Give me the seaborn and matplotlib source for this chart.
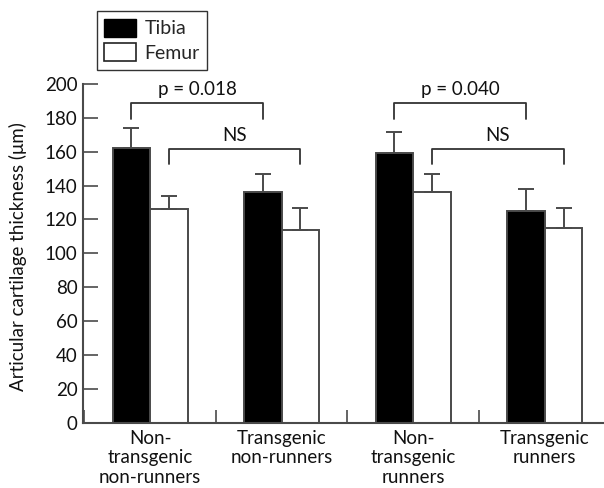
import matplotlib
matplotlib.use("Agg")
import matplotlib.pyplot as plt
from matplotlib.patches import Patch
import seaborn as sns
import pandas as pd
import numpy as np

# Mean articular cartilage thickness (µm) with SEM, per group and bone
groups = ["Non-\ntransgenic\nnon-runners", "Transgenic\nnon-runners",
          "Non-\ntransgenic\nrunners", "Transgenic\nrunners"]
bones = ["Tibia", "Femur"]
tibia_mean = [162, 136, 159, 125]
tibia_err = [12, 11, 12.5, 13]
femur_mean = [126, 114, 136, 115]
femur_err = [8, 12.5, 11, 12]
y_ticks = [0, 20, 40, 60, 80, 100, 120, 140, 160, 180, 200]

# Significance comparisons: (bone, group a, group b, label)
comparisons = [("Tibia", 0, 1, "p = 0.018"), ("Femur", 0, 1, "NS"),
               ("Tibia", 2, 3, "p = 0.040"), ("Femur", 2, 3, "NS")]

sns.set_style("ticks")
plt.rcParams["font.family"] = ["Lato", "DejaVu Sans"]
FS = 13.5
LINE = "#4a4a4a"

df = pd.DataFrame({
    "group": groups * 2,
    "bone": ["Tibia"] * 4 + ["Femur"] * 4,
    "thickness": tibia_mean + femur_mean,
})

fig = plt.figure(figsize=(6.04, 4.88), dpi=100)
ax = fig.add_axes([83 / 604, 1 - 422.7 / 488, (604 - 83) / 604, (422.7 - 84) / 488])

sns.barplot(data=df, x="group", y="thickness", hue="bone", hue_order=bones,
            order=groups, palette={"Tibia": "black", "Femur": "white"},
            width=0.57, errorbar=None, edgecolor=LINE, linewidth=1.4,
            legend=False, ax=ax)

# bar centres, keyed by bone then group
centers = {}
for i, bone in enumerate(bones):
    pats = ax.patches[i * 4:(i + 1) * 4]
    centers[bone] = [p.get_x() + p.get_width() / 2 for p in pats]

means = {"Tibia": tibia_mean, "Femur": femur_mean}
errs = {"Tibia": tibia_err, "Femur": femur_err}
for bone in bones:
    ax.errorbar(centers[bone], means[bone],
                yerr=[np.zeros(4), errs[bone]], fmt="none",
                ecolor=LINE, elinewidth=1.4, capsize=6, capthick=1.4, zorder=1)

# significance brackets
for bone, a, b, label in comparisons:
    xa, xb = centers[bone][a], centers[bone][b]
    top = 188.5 if bone == "Tibia" else 161.5
    drop = 9
    ax.plot([xa, xa, xb, xb], [top - drop, top, top, top - drop],
            color="#333333", lw=1.3, clip_on=False)
    ax.text((xa + xb) / 2, top + 5, label, ha="center", va="baseline",
            fontsize=FS, color="#111111")

ax.set_xlim(-0.51, 3.45)
ax.set_ylim(0, 200)
ax.set_yticks(y_ticks)
ax.set_xlabel("")
ax.set_ylabel("Articular cartilage thickness (\u03bcm)", fontsize=FS, color="#111111")
ax.yaxis.set_label_coords(-0.108, 0.49)

ax.tick_params(axis="y", direction="in", length=11, width=1.2, color=LINE,
               labelsize=FS, pad=4, labelcolor="#111111")
ax.tick_params(axis="x", which="major", length=0, labelsize=FS, pad=5,
               labelcolor="#111111")
ax.set_xticks([-0.5, 0.5, 1.5, 2.5], minor=True)
ax.tick_params(axis="x", which="minor", direction="in", length=9.5, width=1.2,
               color=LINE)

for side in ("top", "right"):
    ax.spines[side].set_visible(False)
for side in ("left", "bottom"):
    ax.spines[side].set_color(LINE)
    ax.spines[side].set_linewidth(1.5)

handles = [Patch(facecolor="black", edgecolor="black", label="Tibia"),
           Patch(facecolor="white", edgecolor="#222222", linewidth=1.2, label="Femur")]
leg = fig.legend(handles=handles, loc="upper left",
                 bbox_to_anchor=(96.7 / 604, 1 - 11 / 488), fontsize=14,
                 fancybox=False, framealpha=1, edgecolor="#333333",
                 borderpad=0.4, borderaxespad=0, handlelength=1.6,
                 handleheight=1.05, handletextpad=0.45, labelspacing=0.3)
leg.get_frame().set_linewidth(1.0)

fig.savefig("out.png", dpi=100)
